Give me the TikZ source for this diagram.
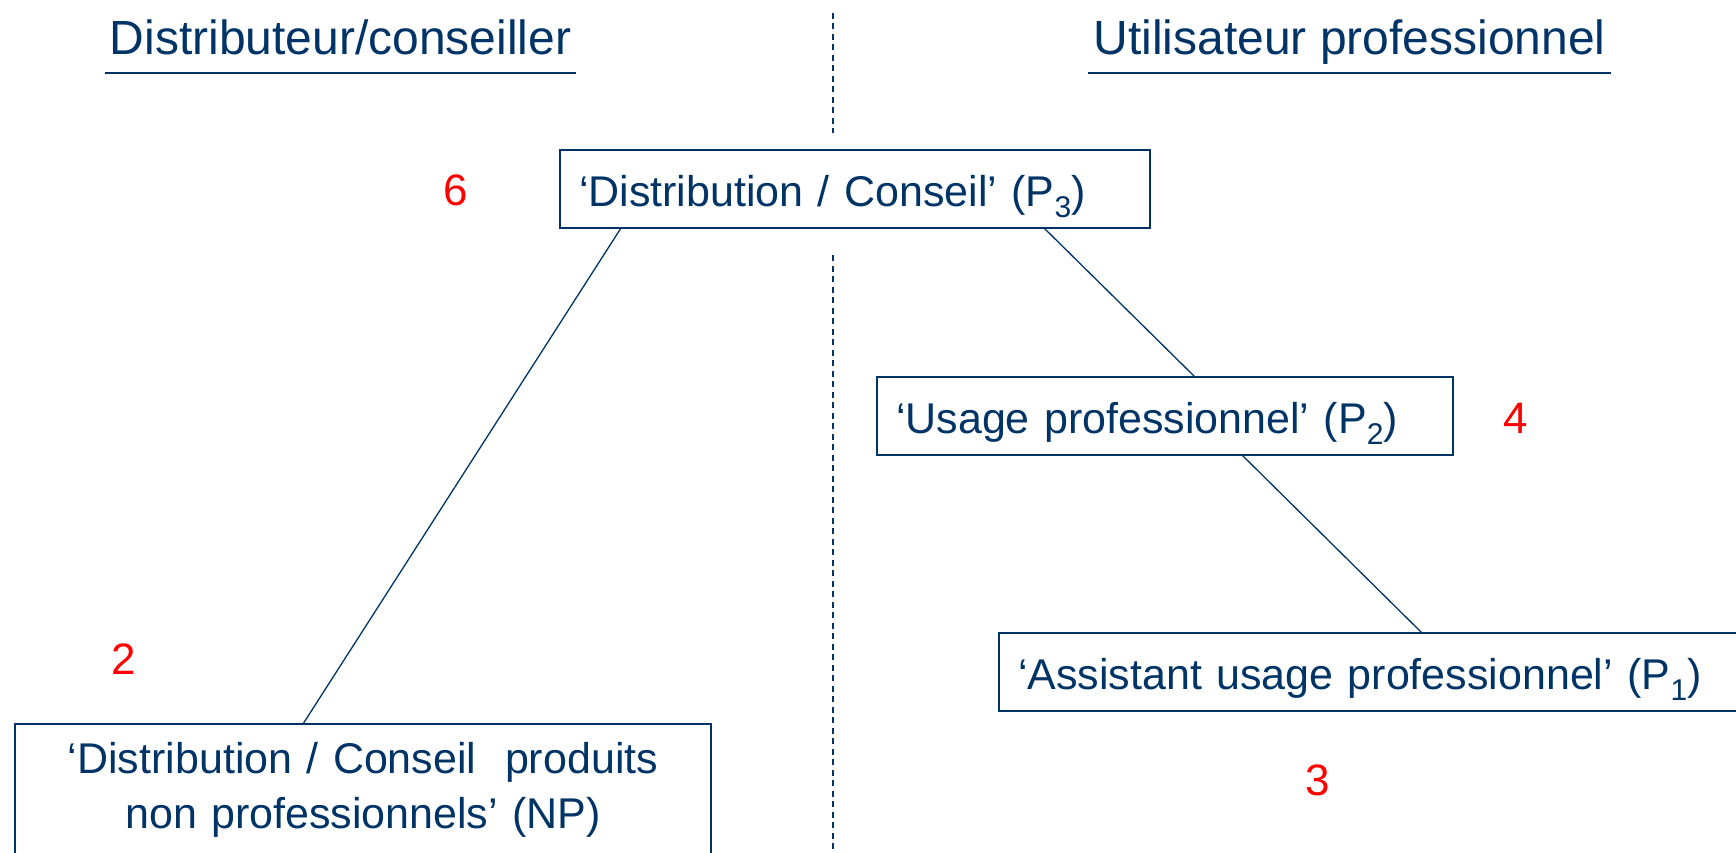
\documentclass[tikz,border=0pt]{standalone}
\usepackage{fontspec}
\setmainfont{Liberation Sans}
\usetikzlibrary{calc}
\definecolor{marine}{RGB}{0,51,102}
\definecolor{rouge}{RGB}{255,0,0}
\newcommand{\indice}[1]{\raisebox{-11pt}{\fontsize{30}{30}\selectfont #1}}

\begin{document}
\begin{tikzpicture}[x=1pt, y=-1pt,
	titre/.style={text=marine, font=\fontsize{48}{58}\selectfont, anchor=base, inner xsep=5pt, inner ysep=18pt, outer sep=0pt, text depth=0pt},
	boite/.style={draw=marine, line width=1.8pt, text=marine, font=\fontsize{43}{55}\selectfont, inner xsep=19pt, inner ysep=0pt, outer sep=0pt},
	ligne/.style={boite, anchor=north west, align=left, minimum height=78pt, text height=36pt, text depth=2pt},
	chiffre/.style={text=rouge, font=\fontsize{44}{50}\selectfont, anchor=base, inner sep=0pt},
	lien/.style={draw=marine, line width=1.3pt}]

	\useasboundingbox (0,0) rectangle (1736,853);

	% les deux colonnes
	\node[titre] (titreG) at (340.5,55) {Distributeur/conseiller};
	\node[titre] (titreD) at (1349.5,55) {Utilisateur professionnel};
	\draw[marine, line width=2.6pt] (titreG.south west) -- (titreG.south east);
	\draw[marine, line width=2.6pt] (titreD.south west) -- (titreD.south east);
	\draw[marine, line width=1.8pt, dash pattern=on 6pt off 4.5pt] (833,13) -- (833,133);
	\draw[marine, line width=1.8pt, dash pattern=on 6pt off 4.5pt] (833,255) -- (833,853);

	\node[ligne, text width=552pt] (p3) at (560,150) {‘Distribution / Conseil’ (P\indice{3})};
	\node[ligne, text width=538pt] (p2) at (877,377) {‘Usage professionnel’ (P\indice{2})};
	\node[ligne, text width=800pt] (p1) at (999,633) {‘Assistant usage professionnel’ (P\indice{1})};
	\node[boite, anchor=north, align=center, text width=658pt, minimum height=132pt] (np) at (363,724) {‘Distribution / Conseil~ produits\\non professionnels’ (NP)};

	\node[chiffre] (n6) at (455.5,205) {6};
	\node[chiffre] (n4) at (1515.5,433) {4};
	\node[chiffre] (n3) at (1317.5,795) {3};
	\node[chiffre] (n2) at (123.5,674) {2};

	\draw[lien] ($(p3.south west)+(61,0)$) -- ($(np.north west)+(288,0)$);
	\draw[lien] ($(p3.south west)+(484,0)$) -- ($(p2.north west)+(318,0)$);
	\draw[lien] ($(p2.south west)+(365,0)$) -- ($(p1.north west)+(423,0)$);

\end{tikzpicture}
\end{document}
